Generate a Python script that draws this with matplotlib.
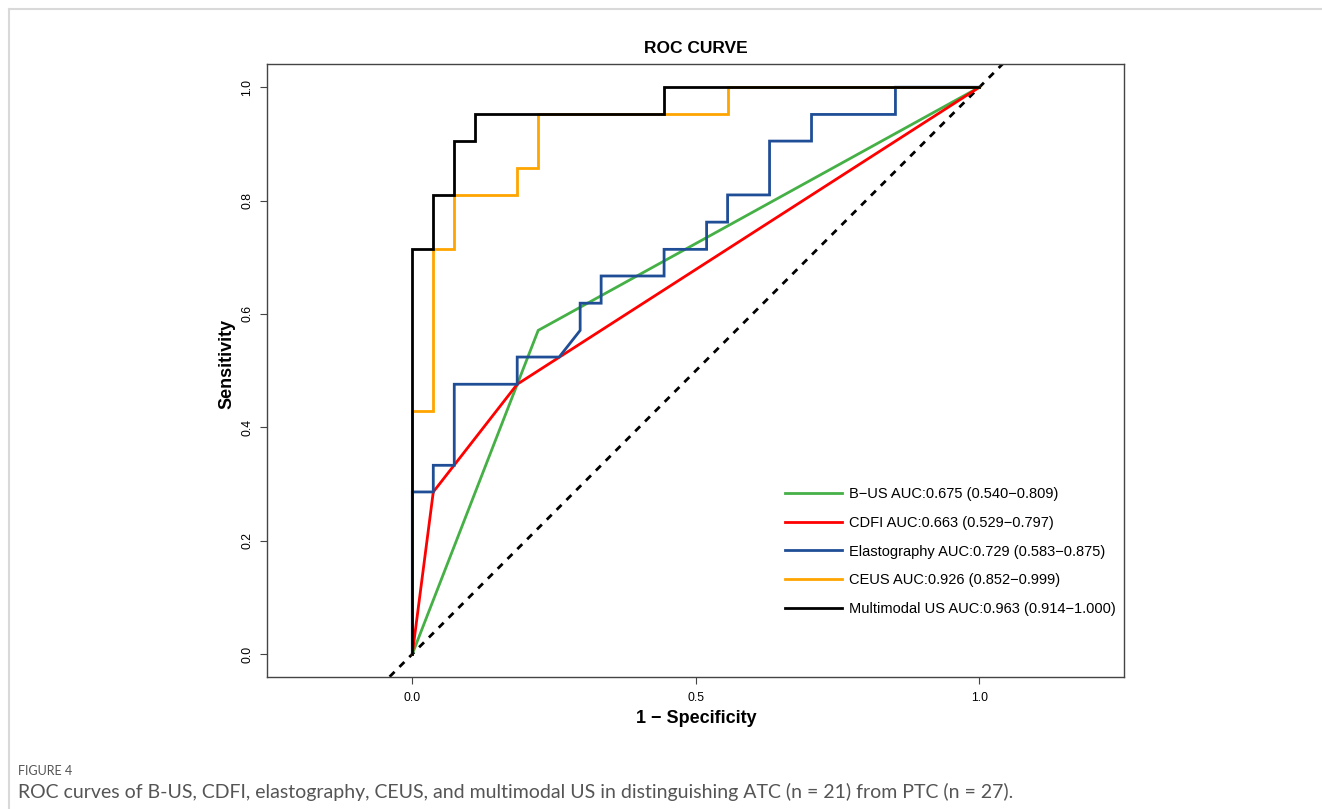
import matplotlib
matplotlib.use("Agg")
import matplotlib.pyplot as plt
from matplotlib.lines import Line2D

plt.rcParams['font.family'] = ['Liberation Sans', 'DejaVu Sans']

# ROC points (1 - specificity, sensitivity)
bus_fpr = [0.0, 0.222, 1.0]
bus_tpr = [0.0, 0.571, 1.0]

cdfi_fpr = [0.0, 0.037, 0.185, 1.0]
cdfi_tpr = [0.0, 0.286, 0.476, 1.0]

elasto_fpr = [0.0, 0.0, 0.037, 0.037, 0.074, 0.074, 0.185, 0.185, 0.259, 0.296, 0.296,
              0.333, 0.333, 0.444, 0.444, 0.519, 0.519, 0.556, 0.556, 0.630, 0.630,
              0.704, 0.704, 0.852, 0.852, 1.0]
elasto_tpr = [0.0, 0.286, 0.286, 0.333, 0.333, 0.476, 0.476, 0.524, 0.524, 0.571, 0.619,
              0.619, 0.667, 0.667, 0.714, 0.714, 0.762, 0.762, 0.810, 0.810, 0.905,
              0.905, 0.952, 0.952, 1.0, 1.0]

ceus_fpr = [0.0, 0.0, 0.037, 0.037, 0.074, 0.074, 0.185, 0.185, 0.222, 0.222, 0.556, 0.556, 1.0]
ceus_tpr = [0.0, 0.429, 0.429, 0.714, 0.714, 0.810, 0.810, 0.857, 0.857, 0.952, 0.952, 1.0, 1.0]

multi_fpr = [0.0, 0.0, 0.037, 0.037, 0.074, 0.074, 0.111, 0.111, 0.444, 0.444, 1.0]
multi_tpr = [0.0, 0.714, 0.714, 0.810, 0.810, 0.905, 0.905, 0.952, 0.952, 1.0, 1.0]

labels = ['B\u2212US AUC:0.675 (0.540\u22120.809)',
          'CDFI AUC:0.663 (0.529\u22120.797)',
          'Elastography AUC:0.729 (0.583\u22120.875)',
          'CEUS AUC:0.926 (0.852\u22120.999)',
          'Multimodal US AUC:0.963 (0.914\u22121.000)']
colors = ['#45B045', '#FF0000', '#1F4E96', '#FFA500', '#000000']

fig = plt.figure(figsize=(13.22, 8.09), dpi=100)
ax = fig.add_axes([0.2022, 0.1635, 0.6483, 0.7574])

ax.axline((0, 0), slope=1, color='black', lw=2, dashes=(2.5, 2.5))

curves = [(bus_fpr, bus_tpr), (cdfi_fpr, cdfi_tpr), (elasto_fpr, elasto_tpr),
          (ceus_fpr, ceus_tpr), (multi_fpr, multi_tpr)]
handles = []
for (fx, ty), c, lab in zip(curves, colors, labels):
    h, = ax.plot(fx, ty, color=c, lw=2, label=lab, solid_joinstyle='miter')
    handles.append(h)

ax.set_xlim(-0.2557, 1.2557)
ax.set_ylim(-0.04, 1.041)
ax.set_xticks([0.0, 0.5, 1.0])
ax.set_xticklabels(['0.0', '0.5', '1.0'])
ax.set_yticks([0.0, 0.2, 0.4, 0.6, 0.8, 1.0])
ax.set_yticklabels(['0.0', '0.2', '0.4', '0.6', '0.8', '1.0'], rotation=90, va='center')
ax.tick_params(axis='both', labelsize=8.8, length=5, width=0.8, color='#444444')
ax.tick_params(axis='x', pad=6)
ax.tick_params(axis='y', pad=5)
for s in ax.spines.values():
    s.set_color('#444444')
    s.set_linewidth(1)

ax.set_title('ROC CURVE', fontsize=12.5, fontweight='bold', pad=8)
ax.set_xlabel('1 \u2212 Specificity', fontsize=13, fontweight='bold', labelpad=4)
ax.set_ylabel('Sensitivity', fontsize=13, fontweight='bold')
ax.yaxis.set_label_coords(-0.037, 0.51)

ax.legend(handles=handles, loc='upper left', bbox_to_anchor=(0.604, 0.31),
          frameon=False, fontsize=10.5, handlelength=3.9, handletextpad=0.5,
          labelspacing=1.02, borderpad=0, borderaxespad=0)

# page border and caption
fig.add_artist(Line2D([9 / 1322, 1], [1 - 9 / 809, 1 - 9 / 809], color='#d9d9d9', lw=1.5))
fig.add_artist(Line2D([9 / 1322, 9 / 1322], [0, 1 - 9 / 809], color='#d9d9d9', lw=1.5))
fig.text(18 / 1322, 1 - 771 / 809, 'FIGURE 4', fontsize=9, color='#555555',
         family='Lato', va='center')
fig.text(18 / 1322, 1 - 792 / 809,
         'ROC curves of B-US, CDFI, elastography, CEUS, and multimodal US in distinguishing '
         'ATC (n = 21) from PTC (n = 27).',
         fontsize=14, color='#555555', family='Lato', va='center')

fig.savefig('out.png', dpi=100)
